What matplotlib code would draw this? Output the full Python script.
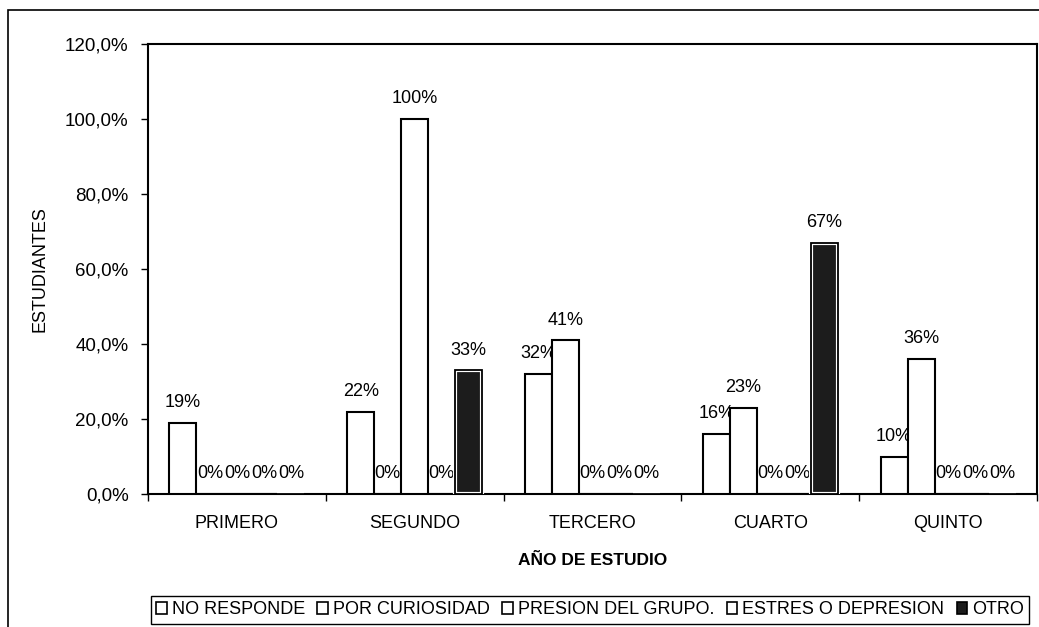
import matplotlib.pyplot as plt
import numpy as np
from matplotlib.patches import Patch, Rectangle
from matplotlib.ticker import FuncFormatter

# Datos del grafico
grados = ['PRIMERO', 'SEGUNDO', 'TERCERO', 'CUARTO', 'QUINTO']
series = ['NO RESPONDE', 'POR CURIOSIDAD', 'PRESION DEL GRUPO.', 'ESTRES O DEPRESION', 'OTRO']
no_responde = [19, 22, 32, 16, 10]
por_curiosidad = [0, 0, 41, 23, 36]
presion_grupo = [0, 100, 0, 0, 0]
estres_depresion = [0, 0, 0, 0, 0]
otro = [0, 33, 0, 67, 0]
y_ticks = [0, 20, 40, 60, 80, 100, 120]

valores = [no_responde, por_curiosidad, presion_grupo, estres_depresion, otro]
colores = ['white', 'white', 'white', 'white', '#1c1c1c']

plt.rcParams['font.family'] = ['Liberation Sans', 'DejaVu Sans']

fig = plt.figure(figsize=(10.39, 6.27), dpi=100)
ax = fig.add_axes([148 / 1039, 1 - 494 / 627, 889 / 1039, 450 / 627])

x = np.arange(len(grados))
ancho = 0.152

for i, (vals, color) in enumerate(zip(valores, colores)):
    pos = x + (i - 2) * ancho
    if color != 'white':
        ax.bar(pos, vals, ancho, color=color, edgecolor='white', linewidth=3, zorder=3)
        ax.bar(pos, vals, ancho, color='none', edgecolor='black', linewidth=1.3, zorder=4)
    else:
        ax.bar(pos, vals, ancho, color=color, edgecolor='black', linewidth=1.5, zorder=3)
    for xp, v in zip(pos, vals):
        ax.annotate(f'{v:.0f}%', (xp, v), xytext=(0, 14.5), textcoords='offset points',
                    ha='center', va='center', fontsize=13, zorder=2)

ax.set_xlim(-0.5, len(grados) - 0.5)
ax.set_ylim(0, 120)
ax.set_yticks(y_ticks)
ax.yaxis.set_major_formatter(FuncFormatter(lambda v, p: f'{v:.1f}%'.replace('.', ',')))
ax.set_xticks(x)
ax.set_xticklabels(grados)
ax.set_xticks(np.arange(-0.5, len(grados)), minor=True)
ax.tick_params(axis='x', which='major', length=0, pad=15, labelsize=13)
ax.tick_params(axis='x', which='minor', length=5, width=1)
ax.tick_params(axis='y', length=5, width=1, labelsize=13.5, pad=9)

for s in ax.spines.values():
    s.set_linewidth(1.5)
    s.set_color('black')

ax.set_xlabel('AÑO DE ESTUDIO', fontsize=12.5, fontweight='bold', labelpad=15)
ax.set_ylabel('ESTUDIANTES', fontsize=13, labelpad=12)

# marco exterior del grafico
fig.patches.append(Rectangle((8 / 1039, -0.1), 1.2, 1.1 - 10 / 627, transform=fig.transFigure,
                             fill=False, edgecolor='black', linewidth=1.2))

handles = [Patch(facecolor=c, edgecolor='black', linewidth=1.2) for c in colores]
fig.legend(handles, series, loc='center', bbox_to_anchor=(590 / 1039, 1 - 610 / 627), ncol=5,
           frameon=True, fancybox=False, edgecolor='black', framealpha=1,
           prop={'size': 13}, handlelength=0.6, handleheight=0.6,
           handletextpad=0.25, columnspacing=0.7, borderpad=0.3, borderaxespad=0)

plt.savefig('out.png', dpi=100)
